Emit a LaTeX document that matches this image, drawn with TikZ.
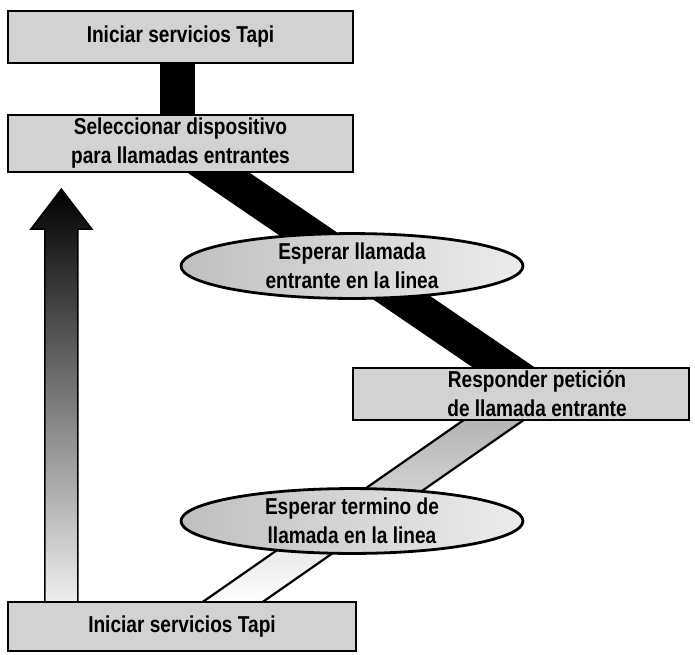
\documentclass[tikz,border=0pt]{standalone}
\usepackage{fontspec}
\setmainfont{Liberation Sans}[FakeStretch=0.83]
\usetikzlibrary{calc,shapes.geometric}
\pgfdeclarelayer{background}
\pgfsetlayers{background,main}
\tikzset{
  lbl/.style={font=\fontsize{23}{29}\selectfont\bfseries, align=center, text=black},
  boxst/.style={draw=black, line width=2.2pt, fill=gray!35, inner sep=0pt, lbl},
  ellst/.style={ellipse, draw=black, line width=2.8pt, left color=gray!50, right color=gray!15, inner sep=0pt, lbl},
  bandblack/.style={fill=black},
  bandgray/.style={draw=black, line width=2.2pt, top color=gray!60, bottom color=white},
  uparrow/.style={draw=black, line width=1.5pt, top color=black, middle color=gray!50, bottom color=gray!12}
}
\begin{document}
\begin{tikzpicture}[x=1pt,y=-1pt]
\useasboundingbox (0,0) rectangle (695,654);
% nodes
\node[boxst, minimum width=345pt, minimum height=52pt] (ini) at (180.5,37) {Iniciar servicios Tapi};
\node[boxst, minimum width=345pt, minimum height=57pt] (sel) at (180.5,143.5) {Seleccionar dispositivo\\para llamadas entrantes};
\node[ellst, minimum width=342pt, minimum height=58pt] (esp1) at (352,266) {Esperar llamada\\entrante en la linea};
\node[boxst, minimum width=336pt, minimum height=52pt] (resp) at (521,394) {};
\node[lbl] (respt) at (537,394) {Responder petición\\de llamada entrante};
\node[ellst, minimum width=342pt, minimum height=62pt] (esp2) at (352,521) {Esperar termino de\\llamada en la linea};
\node[boxst, minimum width=348pt, minimum height=49pt] (fin) at (182,626.5) {Iniciar servicios Tapi};
% connectors behind
\begin{pgfonlayer}{background}
\fill[bandblack] ($(ini.south)+(-20.5,-3)$) rectangle ($(sel.north)+(14.5,3)$);
\path[bandblack]
  ($(sel.south west)+(168,-9)$) -- ($(sel.south west)+(230,-9)$)
  -- ($(resp.north west)+(188,4)$) -- ($(resp.north west)+(126,4)$) -- cycle;
\path[bandgray]
  ($(resp.south west)+(116,-4)$) -- ($(resp.south west)+(176,-4)$)
  -- ($(fin.north west)+(253,3)$) -- ($(fin.north west)+(193,3)$) -- cycle;
\path[uparrow]
  ($(fin.north west)+(38,3)$) -- ($(sel.south west)+(38,56)$)
  -- ($(sel.south west)+(24,56)$) -- ($(sel.south west)+(54.5,16)$)
  -- ($(sel.south west)+(85,56)$) -- ($(sel.south west)+(71,56)$)
  -- ($(fin.north west)+(71,3)$) -- cycle;
\end{pgfonlayer}
\end{tikzpicture}
\end{document}
